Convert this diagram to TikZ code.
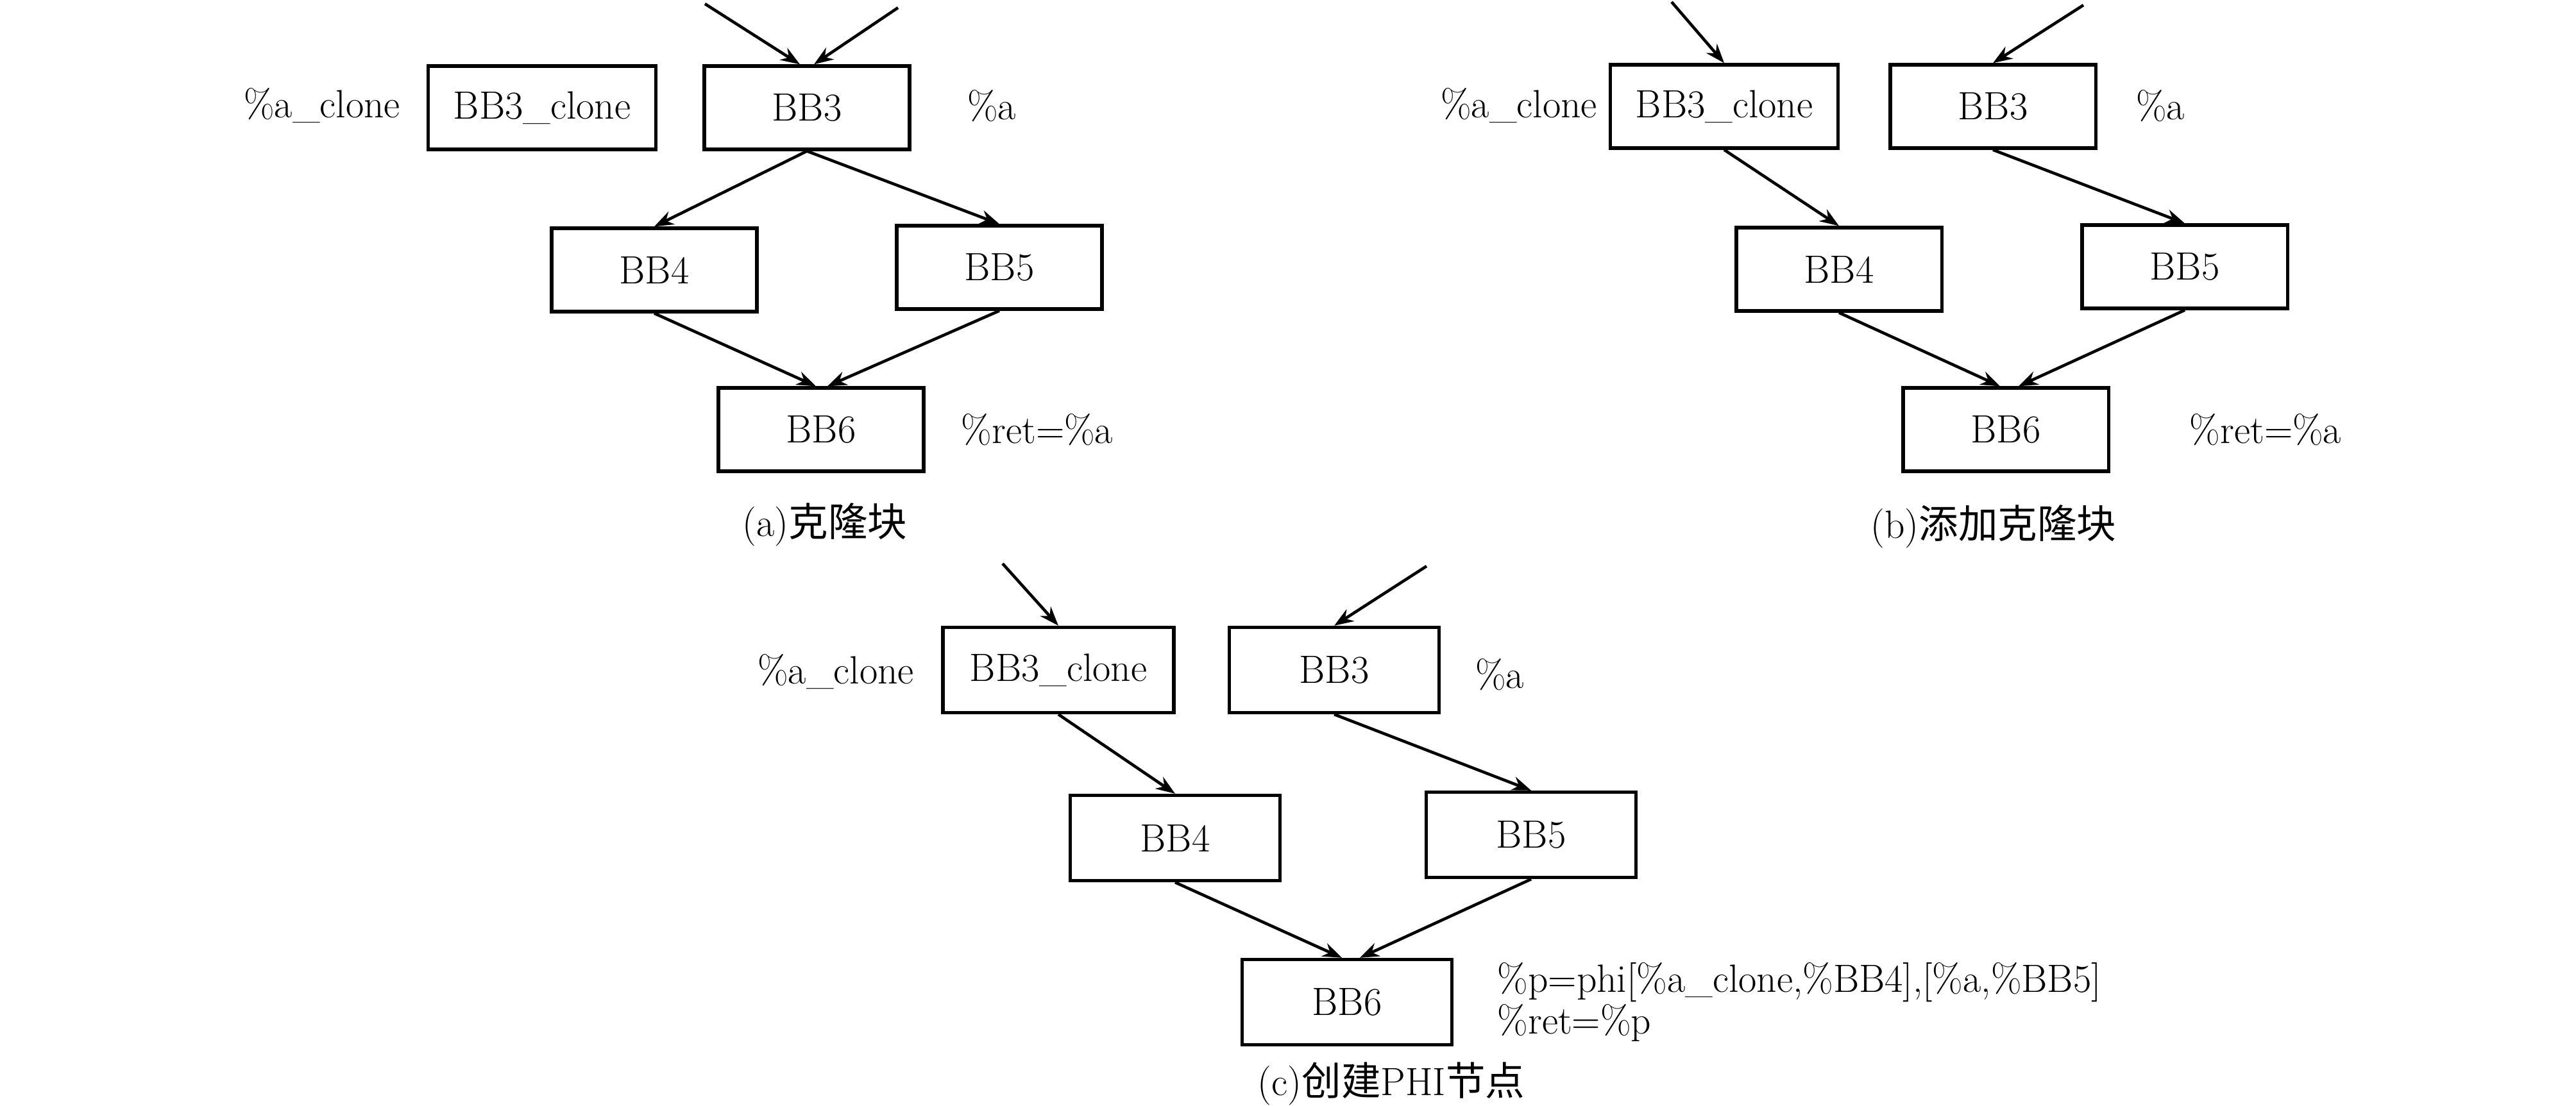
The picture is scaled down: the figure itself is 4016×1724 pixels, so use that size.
\documentclass[tikz,border=0pt]{standalone}
\usepackage{fontspec}
\newfontfamily\cjk{Noto Sans CJK SC}
\usetikzlibrary{arrows.meta,positioning}

\begin{document}
\begin{tikzpicture}[
        x=0.01cm, y=-0.01cm,
        every node/.style={font=\fontsize{17.5}{17}\selectfont},
        block/.style={draw, line width=1.5pt, minimum width=3.2cm,
            minimum height=1.3cm, inner sep=0pt},
        wideblock/.style={block, minimum width=3.55cm},
        flow/.style={-{Stealth[length=0.3cm, width=0.22cm]}, line width=1.3pt},
        caption/.style={font=\fontsize{17.5}{17}\selectfont, inner sep=0pt},
    ]
        \useasboundingbox (0,0) rectangle (4016,1724);

        % (a) clone block
        \node[wideblock] (a3c) at (845, 168) {BB3\_clone};
        \node[block] (a3) at (1258, 168) {BB3};
        \node[block] (a4) at (1020, 421) {BB4};
        \node[block] (a5) at (1558, 417) {BB5};
        \node[block] (a6) at (1280, 670) {BB6};
        \node (a3cv) at (502, 165) {\%a\_clone};
        \node (a3v) at (1546, 165) {\%a};
        \node (a6v) at (1617, 670) {\%ret=\%a};
        \node[caption] (capa) at (1286, 818) {(a){\cjk 克隆块}};
        \coordinate (ain1) at (1099, 6);
        \coordinate (ain2) at (1400, 12);

        \draw[flow] (ain1) -- ([xshift=-0.11cm]a3.north);
        \draw[flow] (ain2) -- ([xshift=0.11cm]a3.north);
        \draw[flow] (a3.south) -- (a4.north);
        \draw[flow] (a3.south) -- (a5.north);
        \draw[flow] (a4.south) -- ([xshift=-0.08cm]a6.north);
        \draw[flow] (a5.south) -- ([xshift=0.1cm]a6.north);

        % (b) add clone block
        \node[wideblock] (b3c) at (2688, 166) {BB3\_clone};
        \node[block] (b3) at (3107, 166) {BB3};
        \node[block] (b4) at (2867, 420) {BB4};
        \node[block] (b5) at (3406, 416) {BB5};
        \node[block] (b6) at (3127, 670) {BB6};
        \node (b3cv) at (2368, 165) {\%a\_clone};
        \node (b3v) at (3368, 165) {\%a};
        \node (b6v) at (3532, 670) {\%ret=\%a};
        \node[caption] (capb) at (3108, 821) {(b){\cjk 添加克隆块}};
        \coordinate (bin1) at (2606, 3);
        \coordinate (bin2) at (3248, 8);

        \draw[flow] (bin1) -- (b3c.north);
        \draw[flow] (bin2) -- (b3.north);
        \draw[flow] (b3c.south) -- (b4.north);
        \draw[flow] (b3.south) -- (b5.north);
        \draw[flow] (b4.south) -- ([xshift=-0.09cm]b6.north);
        \draw[flow] (b5.south) -- ([xshift=0.2cm]b6.north);

        % (c) create PHI node
        \node[wideblock, minimum width=3.6cm, minimum height=1.33cm] (c3c) at (1650, 1045) {BB3\_clone};
        \node[block, minimum width=3.27cm, minimum height=1.33cm] (c3) at (2080, 1045) {BB3};
        \node[block, minimum width=3.27cm, minimum height=1.33cm] (c4) at (1832, 1307) {BB4};
        \node[block, minimum width=3.27cm, minimum height=1.33cm] (c5) at (2387, 1302) {BB5};
        \node[block, minimum width=3.27cm, minimum height=1.33cm] (c6) at (2100, 1563) {BB6};
        \node (c3cv) at (1303, 1048) {\%a\_clone};
        \node (c3v) at (2338, 1052) {\%a};
        \node[anchor=west, align=left, inner sep=0pt] (c6v) at (2334, 1563)
            {\%p=phi[\%a\_clone,\%BB4],[\%a,\%BB5]\\\%ret=\%p};
        \node[caption] (capc) at (2169, 1690) {(c){\cjk 创建}PHI{\cjk 节点}};
        \coordinate (cin1) at (1563, 879);
        \coordinate (cin2) at (2224, 883);

        \draw[flow] (cin1) -- (c3c.north);
        \draw[flow] (cin2) -- (c3.north);
        \draw[flow] (c3c.south) -- (c4.north);
        \draw[flow] (c3.south) -- (c5.north);
        \draw[flow] (c4.south) -- ([xshift=-0.08cm]c6.north);
        \draw[flow] (c5.south) -- ([xshift=0.2cm]c6.north);
    \end{tikzpicture}
\end{document}
